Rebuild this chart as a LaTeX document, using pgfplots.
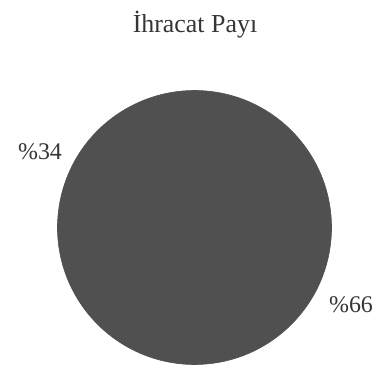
\documentclass[border=0pt]{standalone}
\usepackage{pgfplots}
\pgfplotsset{compat=1.18}
\usepackage{pgfplotstable}
\usepackage{fontspec}
\setmainfont{Liberation Serif}
\definecolor{piegray}{HTML}{505050}
\definecolor{txtgray}{HTML}{353535}
\pgfplotstableread{
label value
66 66
34 34
}\piedata
\begin{document}
\begin{tikzpicture}
\pgfplotstablegetelem{0}{value}\of\piedata\let\va\pgfplotsretval
\pgfplotstablegetelem{1}{value}\of\piedata\let\vb\pgfplotsretval
\pgfmathsetmacro{\aend}{90-3.6*\va}
\pgfmathsetmacro{\bend}{\aend-3.6*\vb}
\begin{axis}[
  scale only axis, width=379bp, height=372bp,
  xmin=0, xmax=379, ymin=0, ymax=372,
  hide axis, clip=false,
]
\addplot[draw=none] coordinates {(0,0) (379,372)};
\filldraw[piegray, line width=0.6pt, line join=round] (axis cs:194.5,144.5) -- ++(90:137bp) arc[start angle=90, end angle=\aend, radius=137bp] -- cycle;
\filldraw[piegray, line width=0.6pt, line join=round] (axis cs:194.5,144.5) -- ++(\aend:137bp) arc[start angle=\aend, end angle=\bend, radius=137bp] -- cycle;
\node[txtgray, font=\fontsize{26}{30}\selectfont] at (axis cs:195,347) {İhracat Payı};
\node[txtgray, font=\fontsize{24}{28}\selectfont] at (axis cs:40,220) {\%\vb};
\node[txtgray, font=\fontsize{24}{28}\selectfont] at (axis cs:351,67) {\%\va};
\end{axis}
\end{tikzpicture}
\end{document}
